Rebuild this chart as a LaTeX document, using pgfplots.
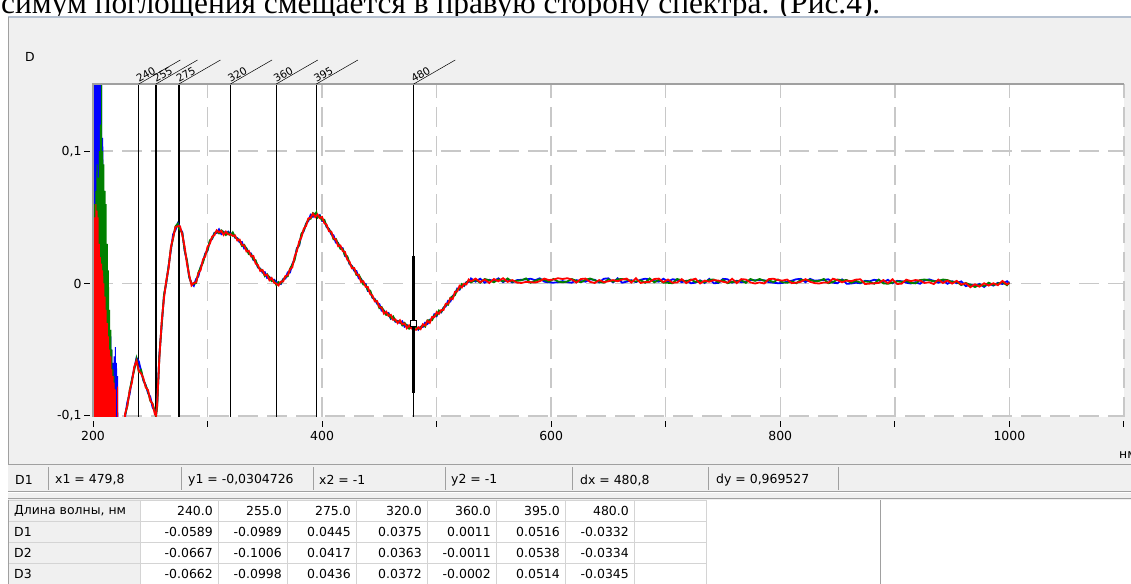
\documentclass[border=0pt]{standalone}
\usepackage{pgfplots}
\pgfplotsset{compat=1.18}
\usepackage{pgfplotstable}
\usepackage{fontspec}
\setmainfont{DejaVu Sans}
\newfontfamily\docfont{Liberation Serif}
\definecolor{panel}{HTML}{F0F0F0}
\definecolor{gridc}{HTML}{C8C8C8}
\definecolor{framec}{HTML}{A0A0A0}
\definecolor{linec}{HTML}{B4C0D0}
\definecolor{cellc}{HTML}{D4D4D4}
\definecolor{cblue}{HTML}{0000FF}
\definecolor{cgreen}{HTML}{008000}
\definecolor{cred}{HTML}{FF0000}
\newcommand\ui{\fontsize{12.5}{14}\selectfont}
\newcommand{\mlabel}[1]{%
  \draw[black, line width=0.5bp] (axis cs:#1,0.1508) -- ++(30:48bp);
  \node[rotate=30, anchor=south west, inner sep=0.6bp, font=\fontsize{10.5}{10.5}\selectfont] at (axis cs:#1,0.1508) {#1};}

\pgfplotstableread{
x y
200 -0.2
200.5 0.2
201 -0.2
201.5 0.2
202 -0.2
202.5 0.2
203 -0.2
203.5 0.2
204 -0.2
204.5 0.2
205 -0.2
205.5 0.2
206 -0.2
206.5 0.2
207 -0.2
207.5 0.16
208 -0.2
208.5 0.11
209 -0.2
209.5 0.07
210 -0.2
210.5 0.04
211 -0.2
211.5 0.02
212 -0.2
212.5 -0.01
213 -0.2
213.5 -0.03
214 -0.2
214.5 -0.045
215 -0.2
215.5 -0.04
216 -0.2
216.5 -0.05
217 -0.2
217.5 -0.06
218 -0.2
218.5 -0.055
219 -0.2
219.5 -0.048
220 -0.2
220.5 -0.06
221 -0.2
221.5 -0.07
222 -0.2
}\nblue

\pgfplotstableread{
x y
200 -0.2
200.5 0.05
201 -0.2
201.5 0.06
202 -0.2
202.5 0.07
203 -0.2
203.5 0.09
204 -0.2
204.5 0.08
205 -0.2
205.5 0.1
206 -0.2
206.5 0.12
207 -0.2
207.5 0.16
208 -0.2
208.5 0.10
209 -0.2
209.5 0.09
210 -0.2
210.5 0.07
211 -0.2
211.5 0.06
212 -0.2
212.5 0.03
213 -0.2
213.5 0.01
214 -0.2
214.5 -0.02
215 -0.2
215.5 -0.035
216 -0.2
216.5 -0.05
217 -0.2
217.5 -0.065
218 -0.2
218.5 -0.07
219 -0.2
219.5 -0.085
220 -0.2
}\ngreen

\pgfplotstableread{
x y
200 -0.2
200.5 0.045
201 -0.2
201.5 0.05
202 -0.2
202.5 0.06
203 -0.2
203.5 0.055
204 -0.2
204.5 0.05
205 -0.2
205.5 0.03
206 -0.2
206.5 0.02
207 -0.2
207.5 0.015
208 -0.2
208.5 0.01
209 -0.2
209.5 0.0
210 -0.2
210.5 -0.01
211 -0.2
211.5 -0.02
212 -0.2
212.5 -0.03
213 -0.2
213.5 -0.04
214 -0.2
214.5 -0.05
215 -0.2
215.5 -0.055
216 -0.2
216.5 -0.065
217 -0.2
217.5 -0.07
218 -0.2
218.5 -0.075
219 -0.2
219.5 -0.08
220 -0.2
221 -0.2
221.5 -0.078
222 -0.2
}\nred

\pgfplotstableread{
x d1 d2 d3
224 -0.16 -0.16 -0.16
228 -0.1008 -0.0994 -0.0985
230 -0.0896 -0.0926 -0.0922
232 -0.0836 -0.0808 -0.0812
234 -0.0724 -0.0728 -0.0748
236 -0.0644 -0.0653 -0.0628
238 -0.0563 -0.0570 -0.0585
240 -0.0589 -0.0667 -0.0662
242 -0.0661 -0.0654 -0.0680
244 -0.0734 -0.0729 -0.0716
246 -0.0767 -0.0772 -0.0785
248 -0.0828 -0.0814 -0.0805
250 -0.0856 -0.0886 -0.0882
252 -0.0936 -0.0908 -0.0912
254 -0.0964 -0.0968 -0.0988
255 -0.0989 -0.1006 -0.0998
256 -0.0924 -0.0933 -0.0908
258 -0.0533 -0.0540 -0.0555
260 -0.0312 -0.0307 -0.0282
262 -0.0091 -0.0084 -0.0110
264 0.0006 0.0011 0.0024
266 0.0133 0.0128 0.0115
268 0.0252 0.0266 0.0275
270 0.0374 0.0344 0.0348
272 0.0404 0.0432 0.0428
274 0.0456 0.0452 0.0432
275 0.0445 0.0417 0.0436
276 0.0416 0.0407 0.0432
278 0.0387 0.0380 0.0365
280 0.0248 0.0253 0.0278
282 0.0169 0.0176 0.0150
284 0.0046 0.0051 0.0064
286 0.0003 -0.0002 -0.0015
288 -0.0018 -0.0004 0.0005
290 0.0034 0.0004 0.0008
292 0.0054 0.0082 0.0078
294 0.0126 0.0122 0.0102
296 0.0166 0.0157 0.0182
298 0.0227 0.0220 0.0205
300 0.0248 0.0253 0.0278
302 0.0319 0.0326 0.0300
304 0.0336 0.0341 0.0354
306 0.0383 0.0378 0.0365
308 0.0382 0.0396 0.0402
310 0.0409 0.0379 0.0387
312 0.0374 0.0402 0.0398
314 0.0391 0.0387 0.0367
316 0.0376 0.0367 0.0392
318 0.0392 0.0385 0.0370
320 0.0375 0.0363 0.0372
322 0.0379 0.0386 0.0360
324 0.0346 0.0351 0.0364
326 0.0343 0.0338 0.0325
328 0.0312 0.0326 0.0332
330 0.0314 0.0284 0.0292
332 0.0264 0.0292 0.0288
334 0.0266 0.0262 0.0242
336 0.0231 0.0222 0.0247
338 0.0227 0.0220 0.0205
340 0.0178 0.0183 0.0208
342 0.0169 0.0176 0.0150
344 0.0121 0.0126 0.0139
346 0.0113 0.0108 0.0095
348 0.0082 0.0096 0.0102
350 0.0086 0.0056 0.0064
352 0.0042 0.0070 0.0066
354 0.0049 0.0045 0.0025
356 0.0026 0.0017 0.0042
358 0.0029 0.0022 0.0007
360 0.0011 -0.0011 -0.0002
362 0.0004 0.0011 -0.0015
364 -0.0004 0.0001 0.0014
366 0.0033 0.0028 0.0015
368 0.0037 0.0051 0.0057
370 0.0084 0.0054 0.0062
372 0.0084 0.0112 0.0108
374 0.0146 0.0142 0.0122
376 0.0186 0.0177 0.0202
378 0.0267 0.0260 0.0245
380 0.0288 0.0293 0.0318
382 0.0369 0.0376 0.0350
384 0.0396 0.0401 0.0414
386 0.0453 0.0448 0.0435
388 0.0472 0.0486 0.0492
390 0.0519 0.0489 0.0497
392 0.0504 0.0532 0.0528
394 0.0526 0.0522 0.0502
395 0.0516 0.0538 0.0514
396 0.0506 0.0497 0.0522
398 0.0517 0.0510 0.0495
400 0.0473 0.0478 0.0503
402 0.0474 0.0481 0.0455
404 0.0426 0.0431 0.0444
406 0.0413 0.0408 0.0395
408 0.0372 0.0386 0.0392
410 0.0364 0.0334 0.0342
412 0.0309 0.0337 0.0333
414 0.0306 0.0302 0.0282
416 0.0271 0.0262 0.0287
418 0.0267 0.0260 0.0245
420 0.0208 0.0213 0.0238
422 0.0199 0.0206 0.0180
424 0.0146 0.0151 0.0164
426 0.0133 0.0128 0.0115
428 0.0097 0.0111 0.0117
430 0.0094 0.0064 0.0072
432 0.0039 0.0067 0.0063
434 0.0036 0.0032 0.0012
436 0.0001 -0.0008 0.0017
438 -0.0003 -0.0010 -0.0025
440 -0.0057 -0.0052 -0.0027
442 -0.0061 -0.0054 -0.0080
444 -0.0109 -0.0104 -0.0091
446 -0.0117 -0.0122 -0.0135
448 -0.0153 -0.0139 -0.0133
450 -0.0156 -0.0186 -0.0178
452 -0.0206 -0.0178 -0.0182
454 -0.0204 -0.0208 -0.0228
456 -0.0229 -0.0238 -0.0213
458 -0.0223 -0.0230 -0.0245
460 -0.0267 -0.0262 -0.0237
462 -0.0256 -0.0249 -0.0275
464 -0.0289 -0.0284 -0.0271
466 -0.0282 -0.0287 -0.0300
468 -0.0298 -0.0284 -0.0278
470 -0.0286 -0.0316 -0.0308
472 -0.0326 -0.0298 -0.0302
474 -0.0314 -0.0318 -0.0338
476 -0.0332 -0.0341 -0.0316
478 -0.0318 -0.0325 -0.0340
480 -0.0332 -0.0334 -0.0345
482 -0.0326 -0.0334 -0.0350
484 -0.0349 -0.0344 -0.0331
486 -0.0327 -0.0332 -0.0345
488 -0.0328 -0.0314 -0.0308
490 -0.0296 -0.0326 -0.0318
492 -0.0306 -0.0278 -0.0282
494 -0.0274 -0.0278 -0.0298
496 -0.0269 -0.0278 -0.0253
498 -0.0233 -0.0240 -0.0255
500 -0.0247 -0.0242 -0.0217
502 -0.0211 -0.0204 -0.0230
504 -0.0219 -0.0214 -0.0201
506 -0.0182 -0.0187 -0.0200
508 -0.0173 -0.0159 -0.0153
510 -0.0131 -0.0161 -0.0153
512 -0.0136 -0.0108 -0.0112
514 -0.0094 -0.0098 -0.0118
516 -0.0079 -0.0088 -0.0063
518 -0.0038 -0.0045 -0.0060
520 -0.0047 -0.0042 -0.0017
522 -0.0011 -0.0004 -0.0030
524 -0.0019 -0.0014 -0.0001
526 0.0011 0.0006 -0.0007
528 0.0010 0.0024 0.0030
530 0.0038 0.0008 0.0016
534 0.0014 0.0028 0.0037
538 0.0036 0.0006 0.0010
542 0.0006 0.0034 0.0030
546 0.0028 0.0024 0.0004
550 0.0018 0.0009 0.0034
554 0.0039 0.0032 0.0017
558 0.0010 0.0015 0.0040
562 0.0031 0.0038 0.0012
566 0.0008 0.0013 0.0026
570 0.0025 0.0020 0.0007
574 0.0028 0.0024 0.0004
578 0.0031 0.0038 0.0012
582 0.0036 0.0006 0.0010
586 0.0025 0.0020 0.0007
590 0.0039 0.0032 0.0017
594 0.0014 0.0028 0.0037
598 0.0008 0.0013 0.0026
602 0.0006 0.0034 0.0030
606 0.0010 0.0015 0.0040
610 0.0018 0.0009 0.0034
614 0.0010 0.0015 0.0040
618 0.0006 0.0034 0.0030
622 0.0025 0.0020 0.0007
626 0.0018 0.0009 0.0034
630 0.0014 0.0028 0.0037
634 0.0031 0.0038 0.0012
638 0.0028 0.0024 0.0004
642 0.0008 0.0013 0.0026
646 0.0036 0.0006 0.0010
650 0.0039 0.0032 0.0017
654 0.0008 0.0013 0.0026
658 0.0039 0.0032 0.0017
662 0.0006 0.0034 0.0030
666 0.0014 0.0028 0.0037
670 0.0025 0.0020 0.0007
674 0.0010 0.0015 0.0040
678 0.0028 0.0024 0.0004
682 0.0036 0.0006 0.0010
686 0.0031 0.0038 0.0012
690 0.0018 0.0009 0.0034
694 0.0014 0.0028 0.0037
698 0.0036 0.0006 0.0010
702 0.0014 0.0005 0.0030
706 0.0032 0.0002 0.0006
710 0.0027 0.0034 0.0008
714 0.0010 0.0024 0.0033
718 0.0021 0.0016 0.0003
722 0.0002 0.0030 0.0026
726 0.0006 0.0011 0.0036
730 0.0024 0.0020 0.0000
734 0.0004 0.0009 0.0022
738 0.0035 0.0028 0.0013
742 0.0002 0.0030 0.0026
746 0.0004 0.0009 0.0022
750 0.0035 0.0028 0.0013
754 0.0032 0.0002 0.0006
758 0.0006 0.0011 0.0036
762 0.0021 0.0016 0.0003
766 0.0010 0.0024 0.0033
770 0.0014 0.0005 0.0030
774 0.0027 0.0034 0.0008
778 0.0024 0.0020 0.0000
782 0.0027 0.0034 0.0008
786 0.0024 0.0020 0.0000
790 0.0010 0.0024 0.0033
794 0.0006 0.0011 0.0036
798 0.0002 0.0030 0.0026
802 0.0004 0.0009 0.0022
806 0.0014 0.0005 0.0030
810 0.0021 0.0016 0.0003
814 0.0032 0.0002 0.0006
818 0.0035 0.0028 0.0013
822 0.0010 0.0024 0.0033
826 0.0035 0.0028 0.0013
830 0.0021 0.0016 0.0003
834 0.0024 0.0020 0.0000
838 0.0027 0.0034 0.0008
842 0.0032 0.0002 0.0006
846 0.0006 0.0011 0.0036
850 0.0002 0.0030 0.0026
854 0.0031 0.0024 0.0009
858 -0.0002 0.0026 0.0022
862 0.0000 0.0005 0.0018
866 0.0006 0.0020 0.0029
870 0.0002 0.0007 0.0032
874 0.0020 0.0016 -0.0004
878 0.0017 0.0012 -0.0001
882 0.0028 -0.0002 0.0002
886 0.0023 0.0030 0.0004
890 0.0010 0.0001 0.0026
894 0.0028 -0.0002 0.0002
898 0.0002 0.0007 0.0032
902 0.0020 0.0016 -0.0004
906 0.0017 0.0012 -0.0001
910 0.0006 0.0020 0.0029
914 0.0000 0.0005 0.0018
918 0.0010 0.0001 0.0026
922 -0.0002 0.0026 0.0022
926 0.0023 0.0030 0.0004
930 0.0031 0.0024 0.0009
934 0.0020 0.0016 -0.0004
938 0.0006 0.0020 0.0029
942 0.0023 0.0030 0.0004
946 -0.0002 0.0026 0.0022
950 0.0017 0.0012 -0.0001
954 0.0002 0.0014 0.0020
958 0.0016 -0.0012 -0.0008
962 -0.0020 0.0004 0.0002
966 -0.0008 -0.0010 -0.0028
970 -0.0018 -0.0027 -0.0006
974 -0.0003 -0.0010 -0.0024
978 -0.0026 -0.0018 0.0002
982 0.0001 0.0006 -0.0016
986 -0.0016 -0.0011 0.0002
990 0.0005 0.0000 -0.0013
994 -0.0004 0.0010 0.0019
998 0.0017 -0.0013 -0.0007
1000 0.0000 0.0006 0.0004
}\curve

\begin{document}
\begin{tikzpicture}[x=1bp,y=1bp]
\useasboundingbox (0,0) rectangle (1131,584);
\begin{scope}
\clip (0,0) rectangle (1131,584);
\fill[white] (0,0) rectangle (1131,584);
\node[anchor=base west, inner sep=0pt, font=\docfont\fontsize{31.5}{31.5}\selectfont] at (1,570) {симум поглощения смещается в правую сторону спектра. (Рис.4).};
% chart panel
\fill[panel] (8,119) rectangle (1131,567);
\draw[linec, line width=2bp] (8,567) -- (1131,567);
\draw[framec, line width=1bp] (8.5,119) -- (8.5,567);
\node[anchor=west, inner sep=0pt, font=\ui] at (25,527) {D};
\node[anchor=west, inner sep=0pt, font=\ui] at (1119,129) {нм};
% status bar
\fill[panel] (8,84) rectangle (1131,119);
\draw[framec, line width=1bp] (8,119) -- (1131,119);
\draw[framec, line width=1bp] (8,92.5) -- (1131,92.5);
\draw[white, line width=1bp] (8,91.5) -- (1131,91.5);
\draw[framec, line width=1bp] (8,85) -- (1131,85);
\foreach \s in {48,181,313,445,572,708,838} {\draw[framec, line width=1bp] (\s,94) -- (\s,117);}
\node[anchor=west, inner sep=0pt, font=\ui] at (15,104) {D1};
\node[anchor=west, inner sep=0pt, font=\ui] at (55,104) {x1 = 479,8};
\node[anchor=west, inner sep=0pt, font=\ui] at (188,104) {y1 = -0,0304726};
\node[anchor=west, inner sep=0pt, font=\ui] at (319,104) {x2 = -1};
\node[anchor=west, inner sep=0pt, font=\ui] at (451,104) {y2 = -1};
\node[anchor=west, inner sep=0pt, font=\ui] at (580,104) {dx = 480,8};
\node[anchor=west, inner sep=0pt, font=\ui] at (716,104) {dy = 0,969527};
% table
\fill[white] (8,0) rectangle (880,84);
\fill[panel] (8,0) rectangle (140,84);
\foreach \r in {83.5,62.5,41.5,20.5} {\draw[cellc, line width=1bp] (8,\r) -- (706,\r);}
\foreach \c in {140,218,287,356,427,496,565,634,706} {\draw[cellc, line width=1bp] (\c,0) -- (\c,84);}
\draw[framec, line width=1bp] (8.5,0) -- (8.5,84);
\draw[framec, line width=1bp] (880,0) -- (880,84);
\node[anchor=west, inner sep=0pt, font=\ui] at (14,73) {Длина волны, нм};
\node[anchor=west, inner sep=0pt, font=\ui] at (14,52) {D1};
\node[anchor=west, inner sep=0pt, font=\ui] at (14,31) {D2};
\node[anchor=west, inner sep=0pt, font=\ui] at (14,10) {D3};
\foreach \c/\a/\b/\d/\e in {
 213/240.0/-0.0589/-0.0667/-0.0662,
 282/255.0/-0.0989/-0.1006/-0.0998,
 351/275.0/0.0445/0.0417/0.0436,
 422/320.0/0.0375/0.0363/0.0372,
 491/360.0/0.0011/-0.0011/-0.0002,
 560/395.0/0.0516/0.0538/0.0514,
 629/480.0/-0.0332/-0.0334/-0.0345} {
 \node[anchor=east, inner sep=0pt, font=\ui] at (\c,73) {\a};
 \node[anchor=east, inner sep=0pt, font=\ui] at (\c,52) {\b};
 \node[anchor=east, inner sep=0pt, font=\ui] at (\c,31) {\d};
 \node[anchor=east, inner sep=0pt, font=\ui] at (\c,10) {\e};
}
\end{scope}
\begin{axis}[
  at={(93bp,167bp)}, anchor=south west, scale only axis,
  width=1031bp, height=333bp,
  xmin=200, xmax=1100, ymin=-0.1009, ymax=0.1508,
  axis background/.style={fill=white},
  axis line style={draw=none},
  xtick={200,300,...,1100}, xticklabels={200,,400,,600,,800,,1000,},
  ytick={-0.1,0,0.1}, yticklabels={{-0,1},0,{0,1}},
  xtick pos=lower, ytick pos=left,
  grid=major,
  major grid style={draw=gridc, line width=1.4bp, dash pattern=on 20bp off 9bp},
  tick align=outside, major tick length=6bp,
  xtick style={draw=black, line width=1bp, yshift=-4bp},
  ytick style={draw=black, line width=1bp, xshift=-3bp},
  tick label style={font=\ui},
  xticklabel style={yshift=-5bp},
  yticklabel style={xshift=-2bp},
  clip mode=individual,
]
\addplot[black, line width=1.2bp] coordinates {(240,-0.2) (240,0.3)};
\addplot[black, line width=1.2bp] coordinates {(255,-0.2) (255,0.3)};
\addplot[black, line width=1.2bp] coordinates {(275,-0.2) (275,0.3)};
\addplot[black, line width=1.2bp] coordinates {(320,-0.2) (320,0.3)};
\addplot[black, line width=1.2bp] coordinates {(360,-0.2) (360,0.3)};
\addplot[black, line width=1.2bp] coordinates {(395,-0.2) (395,0.3)};
\addplot[black, line width=1.2bp] coordinates {(480,-0.2) (480,0.3)};
\addplot[cblue, line width=1bp] table[x=x, y=y] {\nblue};
\addplot[cblue, line width=1.8bp] table[x=x, y=d1] {\curve};
\addplot[cgreen, line width=1bp] table[x=x, y=y] {\ngreen};
\addplot[cgreen, line width=1.8bp] table[x=x, y=d2] {\curve};
\addplot[cred, line width=1bp] table[x=x, y=y] {\nred};
\addplot[cred, line width=1.8bp] table[x=x, y=d3] {\curve};
\addplot[black, line width=3bp] coordinates {(480,0.0208) (480,-0.0828)};
\addplot[only marks, mark=square*, mark size=3bp, mark options={fill=white, draw=black, line width=1bp}] coordinates {(480,-0.0305)};
\draw[framec, line width=2bp] (rel axis cs:0,0) -- (rel axis cs:0,1) -- (rel axis cs:1,1);
\mlabel{240}
\mlabel{255}
\mlabel{275}
\mlabel{320}
\mlabel{360}
\mlabel{395}
\mlabel{480}
\end{axis}
\end{tikzpicture}
\end{document}
